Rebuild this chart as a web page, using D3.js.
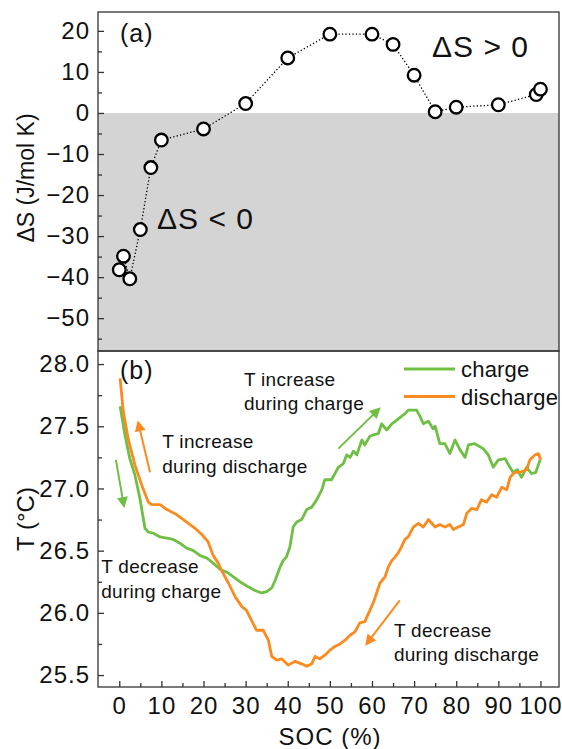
<!DOCTYPE html>
<html>
<head>
<meta charset="utf-8">
<script src="https://cdn.jsdelivr.net/npm/d3@7"></script>
<style>
  body { margin: 0; background: #fff; }
  text { font-family: "Liberation Sans", Arial, sans-serif; fill: #111; }
</style>
</head>
<body>
<div id="chart"></div>
<script>
// panel (a): entropy change vs SOC
const socA = [0, 1, 2.5, 5, 7.5, 10, 20, 30, 40, 50, 60, 65, 70, 75, 80, 90, 99, 100];
const dS = [-38.2, -34.9, -40.4, -28.4, -13.3, -6.6, -3.9, 2.3, 13.4, 19.2, 19.2, 16.7, 9.2, 0.3, 1.4, 2.0, 4.5, 5.8];

// panel (b): temperature during charge
const chargeSoc = [0.2, 1.35, 2.5, 3.7, 4.9, 6.1, 6.9, 8.1, 9.7, 11.3, 12.8, 14.4, 16.0, 17.6, 19.2, 20.8, 22.3, 23.9,
  25.9, 27.5, 29.1, 30.6, 32.2, 33.8, 35.0, 36.2, 37.0, 38.2, 38.9, 39.7, 40.5, 41.3, 42.1, 43.3, 44.5, 45.7, 46.9,
  48.1, 48.8, 49.6, 50.4, 51.2, 52.0, 53.2, 54.0, 54.8, 55.6, 56.4, 57.6, 58.3, 59.5, 60.3, 61.5, 62.3, 63.5, 64.7,
  65.9, 67.0, 67.8, 68.6, 70.6, 71.4, 72.2, 73.4, 74.5, 75.0, 76.1, 77.3, 78.5, 79.7, 80.9, 82.1, 82.9, 84.4, 86.4,
  87.6, 88.8, 90.0, 91.6, 92.4, 93.5, 94.5, 95.5, 96.7, 97.9, 98.9, 99.9];
const chargeT = [27.66, 27.43, 27.24, 27.11, 26.92, 26.68, 26.65, 26.64, 26.61, 26.60, 26.59, 26.56, 26.52, 26.50, 26.46, 26.44, 26.40, 26.35,
  26.32, 26.28, 26.24, 26.21, 26.18, 26.16, 26.17, 26.20, 26.26, 26.37, 26.42, 26.45, 26.53, 26.69, 26.73, 26.75, 26.83, 26.85, 26.91,
  26.99, 27.07, 27.07, 27.07, 27.12, 27.17, 27.20, 27.27, 27.25, 27.30, 27.27, 27.39, 27.35, 27.42, 27.43, 27.44, 27.52, 27.47, 27.52,
  27.55, 27.58, 27.60, 27.63, 27.63, 27.58, 27.52, 27.54, 27.48, 27.50, 27.36, 27.36, 27.28, 27.39, 27.31, 27.25, 27.35, 27.36, 27.32,
  27.27, 27.17, 27.23, 27.24, 27.19, 27.13, 27.15, 27.09, 27.17, 27.12, 27.13, 27.23];

// panel (b): temperature during discharge
const dischargeSoc = [0.2, 0.95, 2.1, 3.7, 5.3, 6.9, 7.7, 9.7, 11.3, 13.6, 14.8, 16.4, 18.0, 19.6, 21.1, 22.3, 23.5,
  24.3, 25.9, 27.5, 29.1, 30.2, 31.4, 32.6, 34.2, 35.4, 36.2, 37.4, 38.6, 40.1, 41.7, 43.3, 44.5, 45.7, 46.5, 47.6,
  48.8, 50.0, 51.2, 52.4, 53.6, 54.8, 56.0, 57.1, 58.3, 59.5, 60.3, 61.1, 61.9, 63.1, 63.9, 64.7, 65.5, 66.2, 67.0,
  67.8, 68.6, 69.8, 71.0, 72.2, 73.4, 75.0, 76.1, 77.3, 78.5, 79.3, 80.5, 81.7, 82.5, 83.7, 84.9, 86.0, 87.2, 88.4,
  89.6, 90.8, 92.0, 92.8, 93.9, 95.1, 96.7, 97.5, 98.7, 99.5, 100.1];
const dischargeT = [27.885, 27.62, 27.40, 27.19, 27.03, 26.89, 26.87, 26.87, 26.83, 26.79, 26.76, 26.72, 26.68, 26.63, 26.57, 26.46, 26.40,
  26.34, 26.24, 26.13, 26.05, 26.02, 25.94, 25.86, 25.86, 25.78, 25.65, 25.62, 25.63, 25.58, 25.61, 25.59, 25.57, 25.59, 25.65, 25.63,
  25.66, 25.70, 25.73, 25.75, 25.78, 25.82, 25.85, 25.92, 25.93, 26.02, 26.08, 26.16, 26.24, 26.29, 26.37, 26.42, 26.45, 26.48, 26.53,
  26.59, 26.61, 26.69, 26.72, 26.69, 26.75, 26.69, 26.71, 26.69, 26.71, 26.67, 26.69, 26.71, 26.80, 26.84, 26.83, 26.91, 26.89, 26.95,
  26.93, 27.01, 26.99, 27.09, 27.13, 27.13, 27.15, 27.23, 27.27, 27.28, 27.23];

const xTicks = [0, 10, 20, 30, 40, 50, 60, 70, 80, 90, 100];
const yTicksA = [20, 10, 0, -10, -20, -30, -40, -50];
const yTicksB = [25.5, 26.0, 26.5, 27.0, 27.5, 28.0];

const green = '#6fbf44';
const orange = '#fb8a1f';

function drawChart() {
  const w = 562;
  const h = 749;
  const left = 98, right = 559, topA = 12, mid = 351, bottomB = 687;

  const svg = d3.select('#chart').append('svg').attr('width', w).attr('height', h);

  const x = d3.scaleLinear().domain([-5.05, 104.4]).range([left, right]);
  const yA = d3.scaleLinear().domain([-58.0, 24.6]).range([mid, topA]);
  const yB = d3.scaleLinear().domain([25.404, 28.105]).range([bottomB, mid]);

  // arrowheads
  const defs = svg.append('defs');
  [['g', green], ['o', orange]].forEach(([id, c]) => {
    defs.append('marker').attr('id', 'head-' + id)
      .attr('viewBox', '0 0 10 10').attr('refX', 8).attr('refY', 5)
      .attr('markerWidth', 6).attr('markerHeight', 5.5).attr('orient', 'auto')
      .attr('markerUnits', 'strokeWidth')
      .append('path').attr('d', 'M0,0 L10,5 L0,10 z').attr('fill', c);
  });

  // ---- panel (a) ----
  svg.append('rect')
    .attr('x', left).attr('y', yA(0))
    .attr('width', right - left).attr('height', mid - yA(0))
    .attr('fill', '#d4d4d4');

  const ptsA = socA.map((s, i) => [s, dS[i]]);
  svg.append('path')
    .datum(ptsA)
    .attr('d', d3.line().x(d => x(d[0])).y(d => yA(d[1])))
    .attr('fill', 'none').attr('stroke', '#000')
    .attr('stroke-width', 1.3).attr('stroke-dasharray', '1.3,2.2');

  svg.selectAll('circle.pt')
    .data(ptsA)
    .enter()
    .append('circle')
    .attr('class', 'pt')
    .attr('cx', d => x(d[0]))
    .attr('cy', d => yA(d[1]))
    .attr('r', 6.3)
    .attr('fill', '#fff')
    .attr('stroke', '#000')
    .attr('stroke-width', 2.3);

  // ---- panel (b) ----
  const line = d3.line().x(d => x(d[0])).y(d => yB(d[1]));
  svg.append('path')
    .datum(chargeSoc.map((s, i) => [s, chargeT[i]]))
    .attr('d', line).attr('fill', 'none').attr('stroke', green).attr('stroke-width', 2.8)
    .attr('stroke-linejoin', 'round');
  svg.append('path')
    .datum(dischargeSoc.map((s, i) => [s, dischargeT[i]]))
    .attr('d', line).attr('fill', 'none').attr('stroke', orange).attr('stroke-width', 2.8)
    .attr('stroke-linejoin', 'round');

  // annotation arrows, in data units [soc0, T0, soc1, T1]
  const arrows = [
    { p: [-0.8, 27.23, 1.1, 26.86], c: green, id: 'g' },
    { p: [7.3, 27.13, 4.5, 27.53], c: orange, id: 'o' },
    { p: [52.0, 27.32, 61.7, 27.64], c: green, id: 'g' },
    { p: [66.6, 26.10, 58.7, 25.75], c: orange, id: 'o' },
  ];
  svg.selectAll('line.arrow')
    .data(arrows)
    .enter()
    .append('line')
    .attr('class', 'arrow')
    .attr('x1', d => x(d.p[0])).attr('y1', d => yB(d.p[1]))
    .attr('x2', d => x(d.p[2])).attr('y2', d => yB(d.p[3]))
    .attr('stroke', d => d.c).attr('stroke-width', 2)
    .attr('marker-end', d => 'url(#head-' + d.id + ')');

  // notes (baseline of first line, in data units)
  const notes = [
    { t: ['T increase', 'during charge'], soc: 29.6, T: 27.824 },
    { t: ['T increase', 'during discharge'], soc: 10.2, T: 27.325 },
    { t: ['T decrease', 'during charge'], soc: -4.3, T: 26.32 },
    { t: ['T decrease', 'during discharge'], soc: 65.2, T: 25.806 },
  ];
  notes.forEach(n => {
    const g = svg.append('text')
      .attr('x', x(n.soc)).attr('y', yB(n.T))
      .attr('font-size', 19).attr('letter-spacing', 0.3);
    n.t.forEach((s, i) => g.append('tspan').attr('x', x(n.soc)).attr('dy', i ? 24.5 : 0).text(s));
  });

  // legend
  const legend = [['charge', green], ['discharge', orange]];
  legend.forEach(([name, c], i) => {
    const ly = 369 + i * 27.5;
    svg.append('line').attr('x1', 404).attr('x2', 455).attr('y1', ly).attr('y2', ly)
      .attr('stroke', c).attr('stroke-width', 2.8);
    svg.append('text').attr('x', 461).attr('y', ly + 8).attr('font-size', 22)
      .attr('letter-spacing', 0.2).text(name);
  });

  // ---- axes ----
  function styleAxis(g) {
    g.select('.domain').remove();
    g.selectAll('line').attr('stroke', '#333').attr('stroke-width', 1.3);
    g.selectAll('text').attr('font-size', 24).attr('fill', '#111').attr('letter-spacing', 1)
      .attr('font-family', '"Liberation Sans", Arial, sans-serif');
  }

  svg.append('g').attr('transform', `translate(${left},0)`)
    .call(d3.axisLeft(yA).tickValues(yTicksA).tickSize(-6).tickPadding(8).tickFormat(d3.format('d')))
    .call(styleAxis);
  svg.append('g').attr('transform', `translate(${left},0)`)
    .call(d3.axisLeft(yA).tickValues(d3.range(-55, 25, 10)).tickSize(-4).tickFormat(''))
    .call(styleAxis);

  svg.append('g').attr('transform', `translate(${left},0)`)
    .call(d3.axisLeft(yB).tickValues(yTicksB).tickSize(-6).tickPadding(8).tickFormat(d3.format('.1f')))
    .call(styleAxis);
  svg.append('g').attr('transform', `translate(${left},0)`)
    .call(d3.axisLeft(yB).tickValues([25.75, 26.25, 26.75, 27.25, 27.75]).tickSize(-4).tickFormat(''))
    .call(styleAxis);

  svg.append('g').attr('transform', `translate(0,${bottomB})`)
    .call(d3.axisBottom(x).tickValues(xTicks).tickSize(-6).tickPadding(10).tickFormat(d3.format('d')))
    .call(styleAxis);
  svg.append('g').attr('transform', `translate(0,${bottomB})`)
    .call(d3.axisBottom(x).tickValues(d3.range(5, 100, 10)).tickSize(-4).tickFormat(''))
    .call(styleAxis);

  // frames
  [[topA, mid], [mid, bottomB]].forEach(([t, b]) => {
    svg.append('rect').attr('x', left).attr('y', t)
      .attr('width', right - left).attr('height', b - t)
      .attr('fill', 'none').attr('stroke', '#333').attr('stroke-width', 1.3);
  });

  // labels
  svg.append('text').attr('x', 120).attr('y', 42).attr('font-size', 25).attr('letter-spacing', 1).text('(a)');
  svg.append('text').attr('x', 120).attr('y', 379).attr('font-size', 25).attr('letter-spacing', 1).text('(b)');
  svg.append('text').attr('x', 432).attr('y', 57).attr('font-size', 30).attr('letter-spacing', 1).text('ΔS > 0');
  svg.append('text').attr('x', 157).attr('y', 229).attr('font-size', 30).attr('letter-spacing', 1).text('ΔS < 0');

  svg.append('text').attr('transform', 'translate(34,178) rotate(-90)')
    .attr('text-anchor', 'middle').attr('font-size', 23).text('ΔS (J/mol K)');
  svg.append('text').attr('transform', 'translate(34,519) rotate(-90)')
    .attr('text-anchor', 'middle').attr('font-size', 24).text('T (°C)');
  svg.append('text').attr('x', 330).attr('y', 745)
    .attr('text-anchor', 'middle').attr('font-size', 24).attr('letter-spacing', 1).text('SOC (%)');
}

window.onload = function () {
  drawChart();
};
</script>
</body>
</html>
